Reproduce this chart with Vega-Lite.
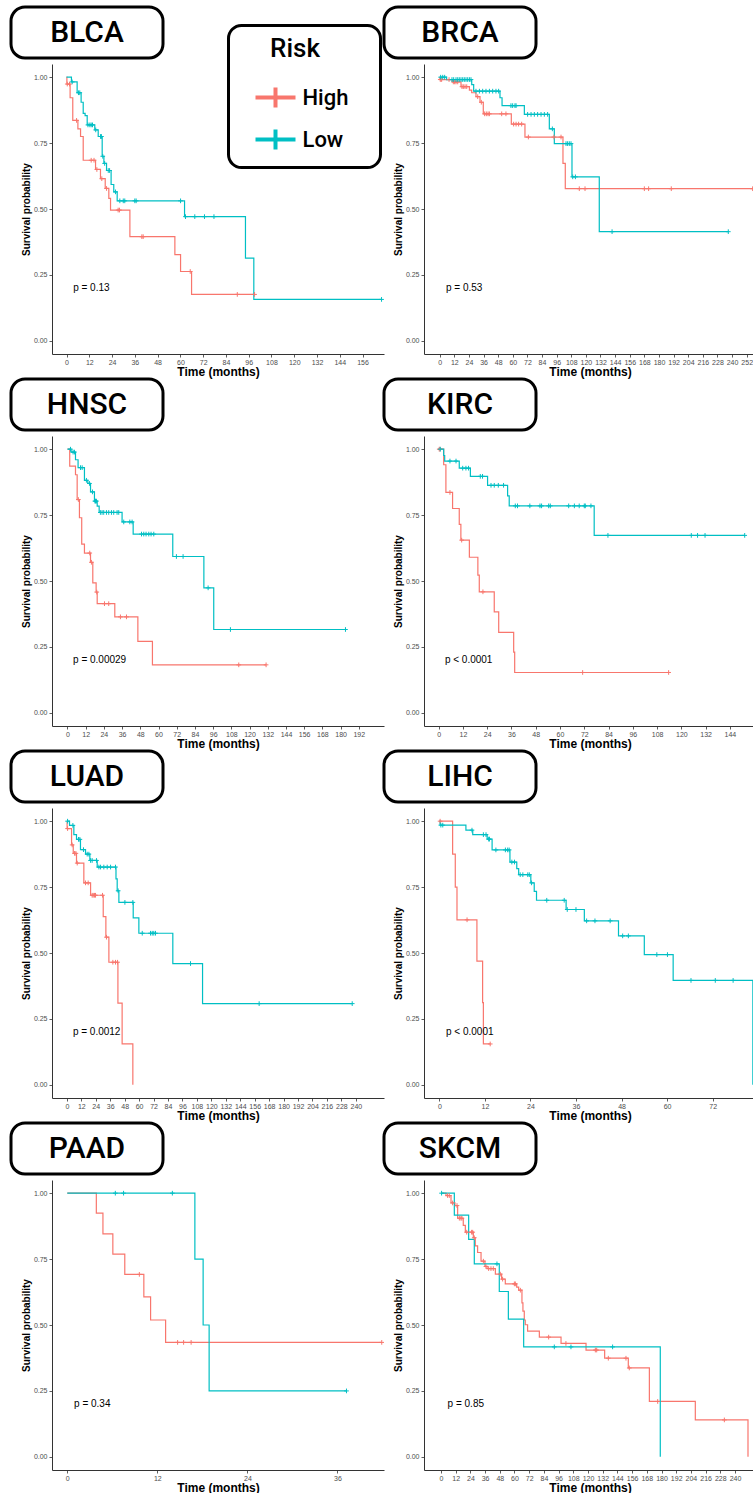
{
"$schema": "https://vega.github.io/schema/vega-lite/v6.json",
"background": "white",
"padding": {"left": 9, "top": 5, "right": 0, "bottom": 0},
"datasets": {
"pv": [
{"panel":"BLCA","t":3.5,"s":0.2,"p":"p = 0.13"},
{"panel":"BRCA","t":5.2,"s":0.2,"p":"p = 0.53"},
{"panel":"HNSC","t":3.7,"s":0.2,"p":"p = 0.00029"},
{"panel":"KIRC","t":3.1,"s":0.2,"p":"p < 0.0001"},
{"panel":"LUAD","t":5,"s":0.2,"p":"p = 0.0012"},
{"panel":"LIHC","t":1.75,"s":0.2,"p":"p < 0.0001"},
{"panel":"PAAD","t":0.9,"s":0.2,"p":"p = 0.34"},
{"panel":"SKCM","t":5.4,"s":0.2,"p":"p = 0.85"}
],
"blca": [
{"g":"High","t":0,"s":1,"c":0},{"g":"High","t":0.2,"s":0.974,"c":0},{"g":"High","t":0.4,"s":0.974,"c":1},{"g":"High","t":1.6,"s":0.974,"c":1},{"g":"High","t":1.9,"s":0.922,"c":0},{"g":"High","t":3.3,"s":0.836,"c":0},{"g":"High","t":5.3,"s":0.836,"c":1},{"g":"High","t":6.0,"s":0.804,"c":0},{"g":"High","t":7.4,"s":0.775,"c":0},{"g":"High","t":8.8,"s":0.685,"c":0},{"g":"High","t":13,"s":0.685,"c":1},{"g":"High","t":14.5,"s":0.685,"c":1},{"g":"High","t":15.3,"s":0.65,"c":0},{"g":"High","t":16,"s":0.65,"c":1},{"g":"High","t":17.9,"s":0.615,"c":0},{"g":"High","t":18.6,"s":0.615,"c":1},{"g":"High","t":20.4,"s":0.578,"c":0},{"g":"High","t":21.1,"s":0.578,"c":1},{"g":"High","t":22.3,"s":0.54,"c":0},{"g":"High","t":23.2,"s":0.496,"c":0},{"g":"High","t":27.2,"s":0.496,"c":1},{"g":"High","t":27.9,"s":0.496,"c":1},{"g":"High","t":33.4,"s":0.395,"c":0},{"g":"High","t":39.7,"s":0.395,"c":1},{"g":"High","t":40.4,"s":0.395,"c":1},{"g":"High","t":57.1,"s":0.327,"c":0},{"g":"High","t":60.1,"s":0.263,"c":0},{"g":"High","t":65.2,"s":0.263,"c":1},{"g":"High","t":65.9,"s":0.176,"c":0},{"g":"High","t":90,"s":0.176,"c":1},{"g":"High","t":99.1,"s":0.176,"c":1},
{"g":"Low","t":0,"s":1,"c":0},{"g":"Low","t":2.6,"s":0.982,"c":0},{"g":"Low","t":3.0,"s":0.982,"c":1},{"g":"Low","t":5.6,"s":0.941,"c":0},{"g":"Low","t":6.3,"s":0.941,"c":1},{"g":"Low","t":7.0,"s":0.941,"c":1},{"g":"Low","t":7.7,"s":0.905,"c":0},{"g":"Low","t":8.8,"s":0.863,"c":0},{"g":"Low","t":9.8,"s":0.854,"c":0},{"g":"Low","t":10.9,"s":0.819,"c":0},{"g":"Low","t":11.3,"s":0.819,"c":1},{"g":"Low","t":12.3,"s":0.819,"c":1},{"g":"Low","t":13,"s":0.819,"c":1},{"g":"Low","t":13.7,"s":0.819,"c":1},{"g":"Low","t":14.9,"s":0.8,"c":0},{"g":"Low","t":15.4,"s":0.8,"c":1},{"g":"Low","t":16.7,"s":0.775,"c":0},{"g":"Low","t":17.9,"s":0.775,"c":1},{"g":"Low","t":18.4,"s":0.775,"c":1},{"g":"Low","t":18.8,"s":0.7,"c":0},{"g":"Low","t":19.1,"s":0.7,"c":1},{"g":"Low","t":19.7,"s":0.673,"c":0},{"g":"Low","t":20.1,"s":0.673,"c":1},{"g":"Low","t":21.1,"s":0.646,"c":0},{"g":"Low","t":22,"s":0.646,"c":1},{"g":"Low","t":22.7,"s":0.646,"c":1},{"g":"Low","t":23.5,"s":0.593,"c":0},{"g":"Low","t":24.9,"s":0.565,"c":0},{"g":"Low","t":25.8,"s":0.565,"c":1},{"g":"Low","t":26.7,"s":0.531,"c":0},{"g":"Low","t":28.1,"s":0.531,"c":1},{"g":"Low","t":29.9,"s":0.531,"c":1},{"g":"Low","t":30.7,"s":0.531,"c":1},{"g":"Low","t":36,"s":0.531,"c":1},{"g":"Low","t":36.7,"s":0.531,"c":1},{"g":"Low","t":60.1,"s":0.531,"c":1},{"g":"Low","t":62.2,"s":0.471,"c":0},{"g":"Low","t":62.7,"s":0.471,"c":1},{"g":"Low","t":67.6,"s":0.471,"c":1},{"g":"Low","t":72.7,"s":0.471,"c":1},{"g":"Low","t":77.7,"s":0.471,"c":1},{"g":"Low","t":94.3,"s":0.314,"c":0},{"g":"Low","t":98.7,"s":0.157,"c":0},{"g":"Low","t":166,"s":0.157,"c":1}
],
"brca": [
{"g":"High","t":0,"s":1,"c":0},{"g":"High","t":0.2,"s":0.991,"c":0},{"g":"High","t":0.5,"s":0.991,"c":1},{"g":"High","t":1.6,"s":0.991,"c":1},{"g":"High","t":7.7,"s":0.991,"c":1},{"g":"High","t":10.7,"s":0.982,"c":0},{"g":"High","t":11.2,"s":0.982,"c":1},{"g":"High","t":12.3,"s":0.982,"c":1},{"g":"High","t":13.4,"s":0.982,"c":1},{"g":"High","t":14.8,"s":0.982,"c":1},{"g":"High","t":17.5,"s":0.964,"c":0},{"g":"High","t":18.3,"s":0.964,"c":1},{"g":"High","t":19.4,"s":0.964,"c":1},{"g":"High","t":20.8,"s":0.964,"c":1},{"g":"High","t":22.2,"s":0.964,"c":1},{"g":"High","t":24.4,"s":0.951,"c":0},{"g":"High","t":26.3,"s":0.941,"c":0},{"g":"High","t":29.8,"s":0.926,"c":0},{"g":"High","t":31.2,"s":0.926,"c":1},{"g":"High","t":33.1,"s":0.905,"c":0},{"g":"High","t":34.2,"s":0.905,"c":1},{"g":"High","t":35.8,"s":0.861,"c":0},{"g":"High","t":36.9,"s":0.861,"c":1},{"g":"High","t":38.3,"s":0.861,"c":1},{"g":"High","t":39.7,"s":0.861,"c":1},{"g":"High","t":40.8,"s":0.861,"c":1},{"g":"High","t":50.9,"s":0.861,"c":1},{"g":"High","t":54.4,"s":0.861,"c":1},{"g":"High","t":58.8,"s":0.822,"c":0},{"g":"High","t":60.7,"s":0.822,"c":1},{"g":"High","t":62.7,"s":0.822,"c":1},{"g":"High","t":64.8,"s":0.822,"c":1},{"g":"High","t":67.3,"s":0.822,"c":1},{"g":"High","t":70,"s":0.773,"c":0},{"g":"High","t":72.8,"s":0.773,"c":1},{"g":"High","t":93.8,"s":0.773,"c":1},{"g":"High","t":99.6,"s":0.773,"c":1},{"g":"High","t":101.2,"s":0.673,"c":0},{"g":"High","t":103.1,"s":0.577,"c":0},{"g":"High","t":114.6,"s":0.577,"c":1},{"g":"High","t":119.3,"s":0.577,"c":1},{"g":"High","t":168,"s":0.577,"c":1},{"g":"High","t":171.5,"s":0.577,"c":1},{"g":"High","t":190.1,"s":0.577,"c":1},{"g":"High","t":256.9,"s":0.577,"c":1},
{"g":"Low","t":0,"s":1,"c":0},{"g":"Low","t":0.8,"s":1,"c":1},{"g":"Low","t":2.5,"s":1,"c":1},{"g":"Low","t":4.1,"s":1,"c":1},{"g":"Low","t":5.7,"s":0.991,"c":0},{"g":"Low","t":10.1,"s":0.991,"c":1},{"g":"Low","t":11.5,"s":0.991,"c":1},{"g":"Low","t":13.4,"s":0.991,"c":1},{"g":"Low","t":14.8,"s":0.991,"c":1},{"g":"Low","t":16.1,"s":0.991,"c":1},{"g":"Low","t":17.5,"s":0.991,"c":1},{"g":"Low","t":18.9,"s":0.991,"c":1},{"g":"Low","t":20.2,"s":0.991,"c":1},{"g":"Low","t":21.6,"s":0.991,"c":1},{"g":"Low","t":23,"s":0.991,"c":1},{"g":"Low","t":24.4,"s":0.991,"c":1},{"g":"Low","t":25.7,"s":0.991,"c":1},{"g":"Low","t":26.3,"s":0.972,"c":0},{"g":"Low","t":27.9,"s":0.947,"c":0},{"g":"Low","t":29.8,"s":0.947,"c":1},{"g":"Low","t":32.6,"s":0.947,"c":1},{"g":"Low","t":35.3,"s":0.947,"c":1},{"g":"Low","t":38,"s":0.947,"c":1},{"g":"Low","t":40.8,"s":0.947,"c":1},{"g":"Low","t":43.5,"s":0.947,"c":1},{"g":"Low","t":46.2,"s":0.947,"c":1},{"g":"Low","t":48.4,"s":0.947,"c":1},{"g":"Low","t":49.5,"s":0.922,"c":0},{"g":"Low","t":51.2,"s":0.892,"c":0},{"g":"Low","t":58.5,"s":0.892,"c":1},{"g":"Low","t":59.9,"s":0.892,"c":1},{"g":"Low","t":61.8,"s":0.892,"c":1},{"g":"Low","t":62.7,"s":0.892,"c":1},{"g":"Low","t":69.5,"s":0.859,"c":0},{"g":"Low","t":72.2,"s":0.859,"c":1},{"g":"Low","t":75,"s":0.859,"c":1},{"g":"Low","t":77.7,"s":0.859,"c":1},{"g":"Low","t":80.4,"s":0.859,"c":1},{"g":"Low","t":83.2,"s":0.859,"c":1},{"g":"Low","t":85.9,"s":0.859,"c":1},{"g":"Low","t":88.6,"s":0.859,"c":1},{"g":"Low","t":90,"s":0.804,"c":0},{"g":"Low","t":92.5,"s":0.804,"c":1},{"g":"Low","t":94.1,"s":0.748,"c":0},{"g":"Low","t":103.7,"s":0.748,"c":1},{"g":"Low","t":105,"s":0.748,"c":1},{"g":"Low","t":106.4,"s":0.748,"c":1},{"g":"Low","t":107.8,"s":0.748,"c":1},{"g":"Low","t":108.6,"s":0.622,"c":0},{"g":"Low","t":109.2,"s":0.622,"c":1},{"g":"Low","t":111.4,"s":0.622,"c":1},{"g":"Low","t":131,"s":0.414,"c":0},{"g":"Low","t":141.5,"s":0.414,"c":1},{"g":"Low","t":236.9,"s":0.414,"c":1}
],
"hnsc": [
{"g":"High","t":0,"s":1,"c":0},{"g":"High","t":1.5,"s":0.936,"c":0},{"g":"High","t":5.3,"s":0.903,"c":0},{"g":"High","t":6.4,"s":0.809,"c":0},{"g":"High","t":7.2,"s":0.809,"c":1},{"g":"High","t":7.9,"s":0.74,"c":0},{"g":"High","t":9.4,"s":0.64,"c":0},{"g":"High","t":11.2,"s":0.606,"c":0},{"g":"High","t":14.7,"s":0.606,"c":1},{"g":"High","t":15.2,"s":0.571,"c":0},{"g":"High","t":15.8,"s":0.571,"c":1},{"g":"High","t":16.7,"s":0.493,"c":0},{"g":"High","t":18.9,"s":0.458,"c":0},{"g":"High","t":19.3,"s":0.458,"c":1},{"g":"High","t":19.6,"s":0.414,"c":0},{"g":"High","t":24.4,"s":0.414,"c":1},{"g":"High","t":27.2,"s":0.414,"c":1},{"g":"High","t":31.2,"s":0.364,"c":0},{"g":"High","t":34.9,"s":0.364,"c":1},{"g":"High","t":38.9,"s":0.364,"c":1},{"g":"High","t":46.4,"s":0.271,"c":0},{"g":"High","t":56,"s":0.182,"c":0},{"g":"High","t":112.9,"s":0.182,"c":1},{"g":"High","t":130.9,"s":0.182,"c":1},
{"g":"Low","t":0,"s":1,"c":0},{"g":"Low","t":2,"s":1,"c":1},{"g":"Low","t":2.4,"s":0.989,"c":0},{"g":"Low","t":3.7,"s":0.989,"c":1},{"g":"Low","t":4.6,"s":0.989,"c":1},{"g":"Low","t":5.3,"s":0.96,"c":0},{"g":"Low","t":7,"s":0.93,"c":0},{"g":"Low","t":8.6,"s":0.93,"c":1},{"g":"Low","t":9.7,"s":0.93,"c":1},{"g":"Low","t":11.2,"s":0.882,"c":0},{"g":"Low","t":12.5,"s":0.882,"c":1},{"g":"Low","t":13.4,"s":0.87,"c":0},{"g":"Low","t":14.5,"s":0.87,"c":1},{"g":"Low","t":15.2,"s":0.838,"c":0},{"g":"Low","t":16.5,"s":0.838,"c":1},{"g":"Low","t":17.8,"s":0.803,"c":0},{"g":"Low","t":18.1,"s":0.803,"c":1},{"g":"Low","t":18.5,"s":0.803,"c":1},{"g":"Low","t":19.1,"s":0.803,"c":1},{"g":"Low","t":19.6,"s":0.784,"c":0},{"g":"Low","t":20.9,"s":0.76,"c":0},{"g":"Low","t":21.7,"s":0.76,"c":1},{"g":"Low","t":22.8,"s":0.76,"c":1},{"g":"Low","t":23.9,"s":0.76,"c":1},{"g":"Low","t":25.7,"s":0.76,"c":1},{"g":"Low","t":27.2,"s":0.76,"c":1},{"g":"Low","t":29,"s":0.76,"c":1},{"g":"Low","t":30.5,"s":0.76,"c":1},{"g":"Low","t":32.7,"s":0.76,"c":1},{"g":"Low","t":33.8,"s":0.76,"c":1},{"g":"Low","t":36,"s":0.724,"c":0},{"g":"Low","t":37.1,"s":0.724,"c":1},{"g":"Low","t":41.1,"s":0.724,"c":1},{"g":"Low","t":42.6,"s":0.724,"c":1},{"g":"Low","t":43.3,"s":0.678,"c":0},{"g":"Low","t":48.8,"s":0.678,"c":1},{"g":"Low","t":50.3,"s":0.678,"c":1},{"g":"Low","t":51.8,"s":0.678,"c":1},{"g":"Low","t":53.6,"s":0.678,"c":1},{"g":"Low","t":55.1,"s":0.678,"c":1},{"g":"Low","t":56.9,"s":0.678,"c":1},{"g":"Low","t":69.4,"s":0.593,"c":0},{"g":"Low","t":71.8,"s":0.593,"c":1},{"g":"Low","t":76.2,"s":0.593,"c":1},{"g":"Low","t":89.9,"s":0.474,"c":0},{"g":"Low","t":92.7,"s":0.474,"c":1},{"g":"Low","t":96.4,"s":0.316,"c":0},{"g":"Low","t":107.4,"s":0.316,"c":1},{"g":"Low","t":183.2,"s":0.316,"c":1}
],
"kirc": [
{"g":"High","t":0,"s":1,"c":0},{"g":"High","t":0.3,"s":1,"c":1},{"g":"High","t":0.7,"s":1,"c":1},{"g":"High","t":2.5,"s":0.941,"c":0},{"g":"High","t":3.6,"s":0.836,"c":0},{"g":"High","t":5.6,"s":0.836,"c":1},{"g":"High","t":6.9,"s":0.775,"c":0},{"g":"High","t":10.2,"s":0.715,"c":0},{"g":"High","t":11,"s":0.655,"c":0},{"g":"High","t":11.4,"s":0.655,"c":1},{"g":"High","t":15.2,"s":0.59,"c":0},{"g":"High","t":19.4,"s":0.522,"c":0},{"g":"High","t":20.1,"s":0.459,"c":0},{"g":"High","t":21.9,"s":0.459,"c":1},{"g":"High","t":27.5,"s":0.383,"c":0},{"g":"High","t":29.7,"s":0.305,"c":0},{"g":"High","t":37.1,"s":0.23,"c":0},{"g":"High","t":37.6,"s":0.153,"c":0},{"g":"High","t":71.2,"s":0.153,"c":1},{"g":"High","t":113.7,"s":0.153,"c":1},
{"g":"Low","t":0,"s":1,"c":0},{"g":"Low","t":0.8,"s":1,"c":1},{"g":"Low","t":2.5,"s":0.976,"c":0},{"g":"Low","t":3,"s":0.955,"c":0},{"g":"Low","t":5.6,"s":0.955,"c":1},{"g":"Low","t":8.6,"s":0.955,"c":1},{"g":"Low","t":10.2,"s":0.928,"c":0},{"g":"Low","t":11.9,"s":0.928,"c":1},{"g":"Low","t":13.5,"s":0.928,"c":1},{"g":"Low","t":14.8,"s":0.928,"c":1},{"g":"Low","t":15.7,"s":0.897,"c":0},{"g":"Low","t":20.6,"s":0.897,"c":1},{"g":"Low","t":21.7,"s":0.897,"c":1},{"g":"Low","t":24.2,"s":0.863,"c":0},{"g":"Low","t":25.9,"s":0.863,"c":1},{"g":"Low","t":27.5,"s":0.863,"c":1},{"g":"Low","t":29.5,"s":0.863,"c":1},{"g":"Low","t":32.1,"s":0.863,"c":1},{"g":"Low","t":34.1,"s":0.823,"c":0},{"g":"Low","t":34.9,"s":0.785,"c":0},{"g":"Low","t":37.9,"s":0.785,"c":1},{"g":"Low","t":39,"s":0.785,"c":1},{"g":"Low","t":45.1,"s":0.785,"c":1},{"g":"Low","t":50.1,"s":0.785,"c":1},{"g":"Low","t":50.9,"s":0.785,"c":1},{"g":"Low","t":54.4,"s":0.785,"c":1},{"g":"Low","t":55.2,"s":0.785,"c":1},{"g":"Low","t":64.3,"s":0.785,"c":1},{"g":"Low","t":67.1,"s":0.785,"c":1},{"g":"Low","t":69.5,"s":0.785,"c":1},{"g":"Low","t":72,"s":0.785,"c":1},{"g":"Low","t":72.5,"s":0.785,"c":1},{"g":"Low","t":75.3,"s":0.785,"c":1},{"g":"Low","t":76.9,"s":0.673,"c":0},{"g":"Low","t":83.7,"s":0.673,"c":1},{"g":"Low","t":124.9,"s":0.673,"c":1},{"g":"Low","t":128,"s":0.673,"c":1},{"g":"Low","t":131.7,"s":0.673,"c":1},{"g":"Low","t":151.3,"s":0.673,"c":1}
],
"luad": [
{"g":"High","t":0,"s":1,"c":0},{"g":"High","t":0.2,"s":0.972,"c":0},{"g":"High","t":0.6,"s":0.972,"c":1},{"g":"High","t":3.9,"s":0.91,"c":0},{"g":"High","t":4.4,"s":0.91,"c":1},{"g":"High","t":5.3,"s":0.878,"c":0},{"g":"High","t":6.4,"s":0.878,"c":1},{"g":"High","t":7.5,"s":0.878,"c":1},{"g":"High","t":8,"s":0.841,"c":0},{"g":"High","t":8.6,"s":0.841,"c":1},{"g":"High","t":14.1,"s":0.766,"c":0},{"g":"High","t":15.5,"s":0.766,"c":1},{"g":"High","t":17.7,"s":0.766,"c":1},{"g":"High","t":19.7,"s":0.719,"c":0},{"g":"High","t":21,"s":0.719,"c":1},{"g":"High","t":21.9,"s":0.719,"c":1},{"g":"High","t":23,"s":0.719,"c":1},{"g":"High","t":23.8,"s":0.719,"c":1},{"g":"High","t":29.6,"s":0.719,"c":1},{"g":"High","t":30.2,"s":0.638,"c":0},{"g":"High","t":32.4,"s":0.56,"c":0},{"g":"High","t":32.9,"s":0.56,"c":1},{"g":"High","t":34.9,"s":0.465,"c":0},{"g":"High","t":38.2,"s":0.465,"c":1},{"g":"High","t":40.4,"s":0.465,"c":1},{"g":"High","t":42.1,"s":0.465,"c":1},{"g":"High","t":42.4,"s":0.31,"c":0},{"g":"High","t":45.9,"s":0.155,"c":0},{"g":"High","t":54.8,"s":0,"c":0},
{"g":"Low","t":0,"s":1,"c":0},{"g":"Low","t":0.6,"s":1,"c":1},{"g":"Low","t":2.2,"s":0.984,"c":0},{"g":"Low","t":5,"s":0.984,"c":1},{"g":"Low","t":5.8,"s":0.949,"c":0},{"g":"Low","t":8,"s":0.931,"c":0},{"g":"Low","t":9.7,"s":0.931,"c":1},{"g":"Low","t":10.8,"s":0.931,"c":1},{"g":"Low","t":11.3,"s":0.892,"c":0},{"g":"Low","t":13.8,"s":0.892,"c":1},{"g":"Low","t":15.5,"s":0.875,"c":0},{"g":"Low","t":16.9,"s":0.875,"c":1},{"g":"Low","t":18.3,"s":0.875,"c":1},{"g":"Low","t":19.1,"s":0.851,"c":0},{"g":"Low","t":19.7,"s":0.851,"c":1},{"g":"Low","t":21,"s":0.851,"c":1},{"g":"Low","t":24.6,"s":0.851,"c":1},{"g":"Low","t":25.2,"s":0.826,"c":0},{"g":"Low","t":26.6,"s":0.826,"c":1},{"g":"Low","t":28,"s":0.826,"c":1},{"g":"Low","t":30.7,"s":0.826,"c":1},{"g":"Low","t":33.5,"s":0.826,"c":1},{"g":"Low","t":36.3,"s":0.826,"c":1},{"g":"Low","t":40.4,"s":0.826,"c":1},{"g":"Low","t":40.8,"s":0.781,"c":0},{"g":"Low","t":41.8,"s":0.736,"c":0},{"g":"Low","t":42.6,"s":0.736,"c":1},{"g":"Low","t":43.2,"s":0.692,"c":0},{"g":"Low","t":48.2,"s":0.692,"c":1},{"g":"Low","t":54.8,"s":0.692,"c":1},{"g":"Low","t":55.1,"s":0.633,"c":0},{"g":"Low","t":59.8,"s":0.575,"c":0},{"g":"Low","t":62.6,"s":0.575,"c":1},{"g":"Low","t":69.5,"s":0.575,"c":1},{"g":"Low","t":70.9,"s":0.575,"c":1},{"g":"Low","t":72.2,"s":0.575,"c":1},{"g":"Low","t":73.6,"s":0.575,"c":1},{"g":"Low","t":88,"s":0.46,"c":0},{"g":"Low","t":102.7,"s":0.46,"c":1},{"g":"Low","t":112.7,"s":0.308,"c":0},{"g":"Low","t":159.7,"s":0.308,"c":1},{"g":"Low","t":237,"s":0.308,"c":1}
],
"lihc": [
{"g":"High","t":0,"s":1,"c":0},{"g":"High","t":0.2,"s":1,"c":1},{"g":"High","t":3.5,"s":0.875,"c":0},{"g":"High","t":4.2,"s":0.75,"c":0},{"g":"High","t":4.65,"s":0.626,"c":0},{"g":"High","t":7.3,"s":0.626,"c":1},{"g":"High","t":9.9,"s":0.469,"c":0},{"g":"High","t":11.4,"s":0.312,"c":0},{"g":"High","t":11.6,"s":0.155,"c":0},{"g":"High","t":13.4,"s":0.155,"c":1},
{"g":"Low","t":0,"s":1,"c":0},{"g":"Low","t":0.2,"s":0.985,"c":0},{"g":"Low","t":0.4,"s":0.985,"c":1},{"g":"Low","t":0.9,"s":0.985,"c":1},{"g":"Low","t":7,"s":0.966,"c":0},{"g":"Low","t":8.6,"s":0.966,"c":1},{"g":"Low","t":8.8,"s":0.949,"c":0},{"g":"Low","t":11.6,"s":0.949,"c":1},{"g":"Low","t":12.3,"s":0.949,"c":1},{"g":"Low","t":12.6,"s":0.932,"c":0},{"g":"Low","t":13,"s":0.932,"c":1},{"g":"Low","t":13.2,"s":0.932,"c":1},{"g":"Low","t":13.9,"s":0.891,"c":0},{"g":"Low","t":14.9,"s":0.891,"c":1},{"g":"Low","t":17.4,"s":0.891,"c":1},{"g":"Low","t":18,"s":0.891,"c":1},{"g":"Low","t":18.4,"s":0.891,"c":1},{"g":"Low","t":18.6,"s":0.845,"c":0},{"g":"Low","t":19.1,"s":0.845,"c":1},{"g":"Low","t":19.8,"s":0.845,"c":1},{"g":"Low","t":20.4,"s":0.82,"c":0},{"g":"Low","t":20.9,"s":0.797,"c":0},{"g":"Low","t":21.3,"s":0.797,"c":1},{"g":"Low","t":22,"s":0.797,"c":1},{"g":"Low","t":23.3,"s":0.797,"c":1},{"g":"Low","t":23.7,"s":0.797,"c":1},{"g":"Low","t":24.1,"s":0.766,"c":0},{"g":"Low","t":24.3,"s":0.766,"c":1},{"g":"Low","t":25,"s":0.734,"c":0},{"g":"Low","t":25.6,"s":0.7,"c":0},{"g":"Low","t":28.3,"s":0.7,"c":1},{"g":"Low","t":32.9,"s":0.7,"c":1},{"g":"Low","t":33.4,"s":0.665,"c":0},{"g":"Low","t":33.7,"s":0.665,"c":1},{"g":"Low","t":36,"s":0.665,"c":1},{"g":"Low","t":38.2,"s":0.622,"c":0},{"g":"Low","t":38.8,"s":0.622,"c":1},{"g":"Low","t":41,"s":0.622,"c":1},{"g":"Low","t":45,"s":0.622,"c":1},{"g":"Low","t":47.2,"s":0.565,"c":0},{"g":"Low","t":48.3,"s":0.565,"c":1},{"g":"Low","t":49.8,"s":0.565,"c":1},{"g":"Low","t":54,"s":0.494,"c":0},{"g":"Low","t":57.3,"s":0.494,"c":1},{"g":"Low","t":60.1,"s":0.494,"c":1},{"g":"Low","t":61.6,"s":0.396,"c":0},{"g":"Low","t":66.3,"s":0.396,"c":1},{"g":"Low","t":72.7,"s":0.396,"c":1},{"g":"Low","t":77.4,"s":0.396,"c":1},{"g":"Low","t":82.6,"s":0,"c":0}
],
"paad": [
{"g":"High","t":0,"s":1,"c":0},{"g":"High","t":3.87,"s":0.924,"c":0},{"g":"High","t":4.75,"s":0.846,"c":0},{"g":"High","t":6.07,"s":0.769,"c":0},{"g":"High","t":7.66,"s":0.692,"c":0},{"g":"High","t":9.6,"s":0.692,"c":1},{"g":"High","t":10.2,"s":0.607,"c":0},{"g":"High","t":11.1,"s":0.519,"c":0},{"g":"High","t":13.1,"s":0.434,"c":0},{"g":"High","t":14.7,"s":0.434,"c":1},{"g":"High","t":15.5,"s":0.434,"c":1},{"g":"High","t":16.5,"s":0.434,"c":1},{"g":"High","t":41.9,"s":0.434,"c":1},
{"g":"Low","t":0,"s":1,"c":0},{"g":"Low","t":6.4,"s":1,"c":1},{"g":"Low","t":7.5,"s":1,"c":1},{"g":"Low","t":14,"s":1,"c":1},{"g":"Low","t":17,"s":0.75,"c":0},{"g":"Low","t":18.1,"s":0.5,"c":0},{"g":"Low","t":18.9,"s":0.25,"c":0},{"g":"Low","t":37.2,"s":0.25,"c":1}
],
"skcm": [
{"g":"High","t":0,"s":1,"c":0},{"g":"High","t":4.1,"s":0.991,"c":0},{"g":"High","t":5.4,"s":0.991,"c":1},{"g":"High","t":6.8,"s":0.991,"c":1},{"g":"High","t":8.2,"s":0.963,"c":0},{"g":"High","t":9.5,"s":0.963,"c":1},{"g":"High","t":11.4,"s":0.953,"c":0},{"g":"High","t":13.1,"s":0.953,"c":1},{"g":"High","t":13.6,"s":0.905,"c":0},{"g":"High","t":15,"s":0.905,"c":1},{"g":"High","t":16.3,"s":0.905,"c":1},{"g":"High","t":17.1,"s":0.905,"c":1},{"g":"High","t":18.2,"s":0.878,"c":0},{"g":"High","t":19.9,"s":0.852,"c":0},{"g":"High","t":21,"s":0.852,"c":1},{"g":"High","t":25,"s":0.852,"c":1},{"g":"High","t":25.9,"s":0.852,"c":1},{"g":"High","t":26.4,"s":0.831,"c":0},{"g":"High","t":27.2,"s":0.831,"c":1},{"g":"High","t":28,"s":0.8,"c":0},{"g":"High","t":29.9,"s":0.775,"c":0},{"g":"High","t":32.7,"s":0.742,"c":0},{"g":"High","t":34.6,"s":0.742,"c":1},{"g":"High","t":35.9,"s":0.722,"c":0},{"g":"High","t":36.7,"s":0.722,"c":1},{"g":"High","t":37.6,"s":0.714,"c":0},{"g":"High","t":38.9,"s":0.714,"c":1},{"g":"High","t":40.8,"s":0.714,"c":1},{"g":"High","t":42.7,"s":0.714,"c":1},{"g":"High","t":44.4,"s":0.693,"c":0},{"g":"High","t":48.4,"s":0.693,"c":1},{"g":"High","t":49.5,"s":0.674,"c":0},{"g":"High","t":50.3,"s":0.674,"c":1},{"g":"High","t":52.5,"s":0.656,"c":0},{"g":"High","t":59.9,"s":0.656,"c":1},{"g":"High","t":60.7,"s":0.656,"c":1},{"g":"High","t":61.8,"s":0.644,"c":0},{"g":"High","t":63.4,"s":0.632,"c":0},{"g":"High","t":64.8,"s":0.632,"c":1},{"g":"High","t":66.1,"s":0.584,"c":0},{"g":"High","t":66.9,"s":0.553,"c":0},{"g":"High","t":68,"s":0.519,"c":0},{"g":"High","t":68.8,"s":0.501,"c":0},{"g":"High","t":70.7,"s":0.477,"c":0},{"g":"High","t":80.3,"s":0.454,"c":0},{"g":"High","t":87.9,"s":0.454,"c":1},{"g":"High","t":98,"s":0.43,"c":0},{"g":"High","t":102,"s":0.43,"c":1},{"g":"High","t":118.4,"s":0.405,"c":0},{"g":"High","t":126,"s":0.405,"c":1},{"g":"High","t":127.1,"s":0.405,"c":1},{"g":"High","t":133.6,"s":0.374,"c":0},{"g":"High","t":136.6,"s":0.374,"c":1},{"g":"High","t":151,"s":0.374,"c":1},{"g":"High","t":152.9,"s":0.337,"c":0},{"g":"High","t":153.7,"s":0.337,"c":1},{"g":"High","t":170.1,"s":0.21,"c":0},{"g":"High","t":176.9,"s":0.21,"c":1},{"g":"High","t":207.6,"s":0.14,"c":0},{"g":"High","t":231.3,"s":0.14,"c":1},{"g":"High","t":250.6,"s":0,"c":0},
{"g":"Low","t":0,"s":1,"c":0},{"g":"Low","t":0.5,"s":1,"c":1},{"g":"Low","t":10.9,"s":0.917,"c":0},{"g":"Low","t":22.6,"s":0.825,"c":0},{"g":"Low","t":27.2,"s":0.732,"c":0},{"g":"Low","t":45.7,"s":0.732,"c":1},{"g":"Low","t":47.6,"s":0.627,"c":0},{"g":"Low","t":55,"s":0.522,"c":0},{"g":"Low","t":67.5,"s":0.417,"c":0},{"g":"Low","t":92.5,"s":0.417,"c":1},{"g":"Low","t":106.1,"s":0.417,"c":1},{"g":"Low","t":140.1,"s":0.417,"c":1},{"g":"Low","t":179,"s":0,"c":0}
]
},
"columns": 2,
"spacing": {"row": 0, "column": -2},
"concat": [
{"vconcat": [
 {"width": 152, "height": 51, "view": {"stroke": "black", "strokeWidth": 3, "cornerRadius": 14, "fill": "white"}, "data": {"values": [{"name": "BLCA"}]}, "mark": {"type": "text", "font": "Roboto", "fontSize": 30, "fontWeight": 500, "color": "black"}, "encoding": {"text": {"field": "name"}}},
 {"width": 373, "height": 290, "data": {"name": "blca"}, "layer": [
  {"mark": {"type": "line", "interpolate": "step-after", "strokeWidth": 1.2, "clip": true},
   "encoding": {"x": {"field": "t", "type": "quantitative", "scale": {"domain": [-29.25, 167.3], "nice": false, "zero": false}, "axis": {"values": [0,12,24,36,48,60,72,84,96,108,120,132,144,156], "tickCount": 60, "title": "Time (months)", "domainDash": [0, 41, 2000], "titleX": 207, "labelOverlap": false}},
    "y": {"field": "s", "type": "quantitative", "scale": {"domain": [-0.05, 1.05], "nice": false, "zero": false}, "axis": {"values": [0,0.25,0.5,0.75,1], "format": ".2f", "title": "Survival probability", "offset": -41, "labelOverlap": false}},
    "color": {"field": "g", "type": "nominal", "scale": {"domain": ["High","Low"], "range": ["#F8766D","#00BFC4"]}, "legend": {"title": "Risk\u2800", "orient": "none", "legendX": 217.5, "legendY": 18.5, "direction": "vertical", "symbolType": "M-1,0H1M0,-0.5V0.5", "symbolSize": 1600, "symbolStrokeWidth": 4, "symbolOffset": 15, "labelExpr": "datum.label + '\u00a0\u2800'"}}}},
  {"transform": [{"filter": "datum.c == 1"}], "mark": {"type": "point", "shape": "M-1,0H1M0,-1V1", "size": 22, "strokeWidth": 1, "filled": false, "opacity": 1, "clip": true},
   "encoding": {"x": {"field": "t", "type": "quantitative"}, "y": {"field": "s", "type": "quantitative"},
    "color": {"field": "g", "type": "nominal", "scale": {"domain": ["High","Low"], "range": ["#F8766D","#00BFC4"]}, "legend": {"title": "Risk\u2800", "orient": "none", "legendX": 217.5, "legendY": 18.5, "direction": "vertical", "symbolType": "M-1,0H1M0,-0.5V0.5", "symbolSize": 1600, "symbolStrokeWidth": 4, "symbolOffset": 15, "labelExpr": "datum.label + '\u00a0\u2800'"}}}},
  {"data": {"name": "pv"}, "transform": [{"filter": "datum.panel == 'BLCA'"}], "mark": {"type": "text", "align": "left", "baseline": "middle", "fontSize": 10, "font": "Liberation Sans", "color": "black"},
   "encoding": {"x": {"field": "t", "type": "quantitative"}, "y": {"field": "s", "type": "quantitative"}, "text": {"field": "p"}}}
 ]}
], "spacing": 4},
{"vconcat": [
 {"width": 152, "height": 51, "view": {"stroke": "black", "strokeWidth": 3, "cornerRadius": 14, "fill": "white"}, "data": {"values": [{"name": "BRCA"}]}, "mark": {"type": "text", "font": "Roboto", "fontSize": 30, "fontWeight": 500, "color": "black"}, "encoding": {"text": {"field": "name"}}},
 {"width": 370, "height": 290, "data": {"name": "brca"}, "layer": [
  {"mark": {"type": "line", "interpolate": "step-after", "strokeWidth": 1.2, "clip": true},
   "encoding": {"x": {"field": "t", "type": "quantitative", "scale": {"domain": [-45.7, 258], "nice": false, "zero": false}, "axis": {"values": [0,12,24,36,48,60,72,84,96,108,120,132,144,156,168,180,192,204,216,228,240,252], "tickCount": 60, "title": "Time (months)", "domainDash": [0, 40, 2000], "titleX": 206, "labelOverlap": false}},
    "y": {"field": "s", "type": "quantitative", "scale": {"domain": [-0.05, 1.05], "nice": false, "zero": false}, "axis": {"values": [0,0.25,0.5,0.75,1], "format": ".2f", "title": "Survival probability", "offset": -40, "labelOverlap": false}},
    "color": {"field": "g", "type": "nominal", "scale": {"domain": ["High","Low"], "range": ["#F8766D","#00BFC4"]}, "legend": {"title": "Risk\u2800", "orient": "none", "legendX": 217.5, "legendY": 18.5, "direction": "vertical", "symbolType": "M-1,0H1M0,-0.5V0.5", "symbolSize": 1600, "symbolStrokeWidth": 4, "symbolOffset": 15, "labelExpr": "datum.label + '\u00a0\u2800'"}}}},
  {"transform": [{"filter": "datum.c == 1"}], "mark": {"type": "point", "shape": "M-1,0H1M0,-1V1", "size": 22, "strokeWidth": 1, "filled": false, "opacity": 1, "clip": true},
   "encoding": {"x": {"field": "t", "type": "quantitative"}, "y": {"field": "s", "type": "quantitative"},
    "color": {"field": "g", "type": "nominal", "scale": {"domain": ["High","Low"], "range": ["#F8766D","#00BFC4"]}, "legend": {"title": "Risk\u2800", "orient": "none", "legendX": 217.5, "legendY": 18.5, "direction": "vertical", "symbolType": "M-1,0H1M0,-0.5V0.5", "symbolSize": 1600, "symbolStrokeWidth": 4, "symbolOffset": 15, "labelExpr": "datum.label + '\u00a0\u2800'"}}}},
  {"data": {"name": "pv"}, "transform": [{"filter": "datum.panel == 'BRCA'"}], "mark": {"type": "text", "align": "left", "baseline": "middle", "fontSize": 10, "font": "Liberation Sans", "color": "black"},
   "encoding": {"x": {"field": "t", "type": "quantitative"}, "y": {"field": "s", "type": "quantitative"}, "text": {"field": "p"}}}
 ]}
], "spacing": 4},
{"vconcat": [
 {"width": 152, "height": 51, "view": {"stroke": "black", "strokeWidth": 3, "cornerRadius": 14, "fill": "white"}, "data": {"values": [{"name": "HNSC"}]}, "mark": {"type": "text", "font": "Roboto", "fontSize": 30, "fontWeight": 500, "color": "black"}, "encoding": {"text": {"field": "name"}}},
 {"width": 373, "height": 290, "data": {"name": "hnsc"}, "layer": [
  {"mark": {"type": "line", "interpolate": "step-after", "strokeWidth": 1.2, "clip": true},
   "encoding": {"x": {"field": "t", "type": "quantitative", "scale": {"domain": [-37.2, 208.6], "nice": false, "zero": false}, "axis": {"values": [0,12,24,36,48,60,72,84,96,108,120,132,144,156,168,180,192], "tickCount": 60, "title": "Time (months)", "domainDash": [0, 41, 2000], "titleX": 207, "labelOverlap": false}},
    "y": {"field": "s", "type": "quantitative", "scale": {"domain": [-0.05, 1.05], "nice": false, "zero": false}, "axis": {"values": [0,0.25,0.5,0.75,1], "format": ".2f", "title": "Survival probability", "offset": -41, "labelOverlap": false}},
    "color": {"field": "g", "type": "nominal", "scale": {"domain": ["High","Low"], "range": ["#F8766D","#00BFC4"]}, "legend": {"title": "Risk\u2800", "orient": "none", "legendX": 217.5, "legendY": 18.5, "direction": "vertical", "symbolType": "M-1,0H1M0,-0.5V0.5", "symbolSize": 1600, "symbolStrokeWidth": 4, "symbolOffset": 15, "labelExpr": "datum.label + '\u00a0\u2800'"}}}},
  {"transform": [{"filter": "datum.c == 1"}], "mark": {"type": "point", "shape": "M-1,0H1M0,-1V1", "size": 22, "strokeWidth": 1, "filled": false, "opacity": 1, "clip": true},
   "encoding": {"x": {"field": "t", "type": "quantitative"}, "y": {"field": "s", "type": "quantitative"},
    "color": {"field": "g", "type": "nominal", "scale": {"domain": ["High","Low"], "range": ["#F8766D","#00BFC4"]}, "legend": {"title": "Risk\u2800", "orient": "none", "legendX": 217.5, "legendY": 18.5, "direction": "vertical", "symbolType": "M-1,0H1M0,-0.5V0.5", "symbolSize": 1600, "symbolStrokeWidth": 4, "symbolOffset": 15, "labelExpr": "datum.label + '\u00a0\u2800'"}}}},
  {"data": {"name": "pv"}, "transform": [{"filter": "datum.panel == 'HNSC'"}], "mark": {"type": "text", "align": "left", "baseline": "middle", "fontSize": 10, "font": "Liberation Sans", "color": "black"},
   "encoding": {"x": {"field": "t", "type": "quantitative"}, "y": {"field": "s", "type": "quantitative"}, "text": {"field": "p"}}}
 ]}
], "spacing": 4},
{"vconcat": [
 {"width": 152, "height": 51, "view": {"stroke": "black", "strokeWidth": 3, "cornerRadius": 14, "fill": "white"}, "data": {"values": [{"name": "KIRC"}]}, "mark": {"type": "text", "font": "Roboto", "fontSize": 30, "fontWeight": 500, "color": "black"}, "encoding": {"text": {"field": "name"}}},
 {"width": 370, "height": 290, "data": {"name": "kirc"}, "layer": [
  {"mark": {"type": "line", "interpolate": "step-after", "strokeWidth": 1.2, "clip": true},
   "encoding": {"x": {"field": "t", "type": "quantitative", "scale": {"domain": [-27.0, 155.9], "nice": false, "zero": false}, "axis": {"values": [0,12,24,36,48,60,72,84,96,108,120,132,144], "tickCount": 60, "title": "Time (months)", "domainDash": [0, 40, 2000], "titleX": 206, "labelOverlap": false}},
    "y": {"field": "s", "type": "quantitative", "scale": {"domain": [-0.05, 1.05], "nice": false, "zero": false}, "axis": {"values": [0,0.25,0.5,0.75,1], "format": ".2f", "title": "Survival probability", "offset": -40, "labelOverlap": false}},
    "color": {"field": "g", "type": "nominal", "scale": {"domain": ["High","Low"], "range": ["#F8766D","#00BFC4"]}, "legend": {"title": "Risk\u2800", "orient": "none", "legendX": 217.5, "legendY": 18.5, "direction": "vertical", "symbolType": "M-1,0H1M0,-0.5V0.5", "symbolSize": 1600, "symbolStrokeWidth": 4, "symbolOffset": 15, "labelExpr": "datum.label + '\u00a0\u2800'"}}}},
  {"transform": [{"filter": "datum.c == 1"}], "mark": {"type": "point", "shape": "M-1,0H1M0,-1V1", "size": 22, "strokeWidth": 1, "filled": false, "opacity": 1, "clip": true},
   "encoding": {"x": {"field": "t", "type": "quantitative"}, "y": {"field": "s", "type": "quantitative"},
    "color": {"field": "g", "type": "nominal", "scale": {"domain": ["High","Low"], "range": ["#F8766D","#00BFC4"]}, "legend": {"title": "Risk\u2800", "orient": "none", "legendX": 217.5, "legendY": 18.5, "direction": "vertical", "symbolType": "M-1,0H1M0,-0.5V0.5", "symbolSize": 1600, "symbolStrokeWidth": 4, "symbolOffset": 15, "labelExpr": "datum.label + '\u00a0\u2800'"}}}},
  {"data": {"name": "pv"}, "transform": [{"filter": "datum.panel == 'KIRC'"}], "mark": {"type": "text", "align": "left", "baseline": "middle", "fontSize": 10, "font": "Liberation Sans", "color": "black"},
   "encoding": {"x": {"field": "t", "type": "quantitative"}, "y": {"field": "s", "type": "quantitative"}, "text": {"field": "p"}}}
 ]}
], "spacing": 4},
{"vconcat": [
 {"width": 152, "height": 51, "view": {"stroke": "black", "strokeWidth": 3, "cornerRadius": 14, "fill": "white"}, "data": {"values": [{"name": "LUAD"}]}, "mark": {"type": "text", "font": "Roboto", "fontSize": 30, "fontWeight": 500, "color": "black"}, "encoding": {"text": {"field": "name"}}},
 {"width": 373, "height": 290, "data": {"name": "luad"}, "layer": [
  {"mark": {"type": "line", "interpolate": "step-after", "strokeWidth": 1.2, "clip": true},
   "encoding": {"x": {"field": "t", "type": "quantitative", "scale": {"domain": [-46.4, 263.4], "nice": false, "zero": false}, "axis": {"values": [0,12,24,36,48,60,72,84,96,108,120,132,144,156,168,180,192,204,216,228,240], "tickCount": 60, "title": "Time (months)", "domainDash": [0, 41, 2000], "titleX": 207, "labelOverlap": false}},
    "y": {"field": "s", "type": "quantitative", "scale": {"domain": [-0.05, 1.05], "nice": false, "zero": false}, "axis": {"values": [0,0.25,0.5,0.75,1], "format": ".2f", "title": "Survival probability", "offset": -41, "labelOverlap": false}},
    "color": {"field": "g", "type": "nominal", "scale": {"domain": ["High","Low"], "range": ["#F8766D","#00BFC4"]}, "legend": {"title": "Risk\u2800", "orient": "none", "legendX": 217.5, "legendY": 18.5, "direction": "vertical", "symbolType": "M-1,0H1M0,-0.5V0.5", "symbolSize": 1600, "symbolStrokeWidth": 4, "symbolOffset": 15, "labelExpr": "datum.label + '\u00a0\u2800'"}}}},
  {"transform": [{"filter": "datum.c == 1"}], "mark": {"type": "point", "shape": "M-1,0H1M0,-1V1", "size": 22, "strokeWidth": 1, "filled": false, "opacity": 1, "clip": true},
   "encoding": {"x": {"field": "t", "type": "quantitative"}, "y": {"field": "s", "type": "quantitative"},
    "color": {"field": "g", "type": "nominal", "scale": {"domain": ["High","Low"], "range": ["#F8766D","#00BFC4"]}, "legend": {"title": "Risk\u2800", "orient": "none", "legendX": 217.5, "legendY": 18.5, "direction": "vertical", "symbolType": "M-1,0H1M0,-0.5V0.5", "symbolSize": 1600, "symbolStrokeWidth": 4, "symbolOffset": 15, "labelExpr": "datum.label + '\u00a0\u2800'"}}}},
  {"data": {"name": "pv"}, "transform": [{"filter": "datum.panel == 'LUAD'"}], "mark": {"type": "text", "align": "left", "baseline": "middle", "fontSize": 10, "font": "Liberation Sans", "color": "black"},
   "encoding": {"x": {"field": "t", "type": "quantitative"}, "y": {"field": "s", "type": "quantitative"}, "text": {"field": "p"}}}
 ]}
], "spacing": 4},
{"vconcat": [
 {"width": 152, "height": 51, "view": {"stroke": "black", "strokeWidth": 3, "cornerRadius": 14, "fill": "white"}, "data": {"values": [{"name": "LIHC"}]}, "mark": {"type": "text", "font": "Roboto", "fontSize": 30, "fontWeight": 500, "color": "black"}, "encoding": {"text": {"field": "name"}}},
 {"width": 370, "height": 290, "data": {"name": "lihc"}, "layer": [
  {"mark": {"type": "line", "interpolate": "step-after", "strokeWidth": 1.2, "clip": true},
   "encoding": {"x": {"field": "t", "type": "quantitative", "scale": {"domain": [-14.58, 82.9], "nice": false, "zero": false}, "axis": {"values": [0,12,24,36,48,60,72], "tickCount": 60, "title": "Time (months)", "domainDash": [0, 40, 2000], "titleX": 206, "labelOverlap": false}},
    "y": {"field": "s", "type": "quantitative", "scale": {"domain": [-0.05, 1.05], "nice": false, "zero": false}, "axis": {"values": [0,0.25,0.5,0.75,1], "format": ".2f", "title": "Survival probability", "offset": -40, "labelOverlap": false}},
    "color": {"field": "g", "type": "nominal", "scale": {"domain": ["High","Low"], "range": ["#F8766D","#00BFC4"]}, "legend": {"title": "Risk\u2800", "orient": "none", "legendX": 217.5, "legendY": 18.5, "direction": "vertical", "symbolType": "M-1,0H1M0,-0.5V0.5", "symbolSize": 1600, "symbolStrokeWidth": 4, "symbolOffset": 15, "labelExpr": "datum.label + '\u00a0\u2800'"}}}},
  {"transform": [{"filter": "datum.c == 1"}], "mark": {"type": "point", "shape": "M-1,0H1M0,-1V1", "size": 22, "strokeWidth": 1, "filled": false, "opacity": 1, "clip": true},
   "encoding": {"x": {"field": "t", "type": "quantitative"}, "y": {"field": "s", "type": "quantitative"},
    "color": {"field": "g", "type": "nominal", "scale": {"domain": ["High","Low"], "range": ["#F8766D","#00BFC4"]}, "legend": {"title": "Risk\u2800", "orient": "none", "legendX": 217.5, "legendY": 18.5, "direction": "vertical", "symbolType": "M-1,0H1M0,-0.5V0.5", "symbolSize": 1600, "symbolStrokeWidth": 4, "symbolOffset": 15, "labelExpr": "datum.label + '\u00a0\u2800'"}}}},
  {"data": {"name": "pv"}, "transform": [{"filter": "datum.panel == 'LIHC'"}], "mark": {"type": "text", "align": "left", "baseline": "middle", "fontSize": 10, "font": "Liberation Sans", "color": "black"},
   "encoding": {"x": {"field": "t", "type": "quantitative"}, "y": {"field": "s", "type": "quantitative"}, "text": {"field": "p"}}}
 ]}
], "spacing": 4},
{"vconcat": [
 {"width": 152, "height": 51, "view": {"stroke": "black", "strokeWidth": 3, "cornerRadius": 14, "fill": "white"}, "data": {"values": [{"name": "PAAD"}]}, "mark": {"type": "text", "font": "Roboto", "fontSize": 30, "fontWeight": 500, "color": "black"}, "encoding": {"text": {"field": "name"}}},
 {"width": 373, "height": 290, "data": {"name": "paad"}, "layer": [
  {"mark": {"type": "line", "interpolate": "step-after", "strokeWidth": 1.2, "clip": true},
   "encoding": {"x": {"field": "t", "type": "quantitative", "scale": {"domain": [-7.5, 42.2], "nice": false, "zero": false}, "axis": {"values": [0,12,24,36], "tickCount": 60, "title": "Time (months)", "domainDash": [0, 41, 2000], "titleX": 207, "labelOverlap": false}},
    "y": {"field": "s", "type": "quantitative", "scale": {"domain": [-0.05, 1.05], "nice": false, "zero": false}, "axis": {"values": [0,0.25,0.5,0.75,1], "format": ".2f", "title": "Survival probability", "offset": -41, "labelOverlap": false}},
    "color": {"field": "g", "type": "nominal", "scale": {"domain": ["High","Low"], "range": ["#F8766D","#00BFC4"]}, "legend": {"title": "Risk\u2800", "orient": "none", "legendX": 217.5, "legendY": 18.5, "direction": "vertical", "symbolType": "M-1,0H1M0,-0.5V0.5", "symbolSize": 1600, "symbolStrokeWidth": 4, "symbolOffset": 15, "labelExpr": "datum.label + '\u00a0\u2800'"}}}},
  {"transform": [{"filter": "datum.c == 1"}], "mark": {"type": "point", "shape": "M-1,0H1M0,-1V1", "size": 22, "strokeWidth": 1, "filled": false, "opacity": 1, "clip": true},
   "encoding": {"x": {"field": "t", "type": "quantitative"}, "y": {"field": "s", "type": "quantitative"},
    "color": {"field": "g", "type": "nominal", "scale": {"domain": ["High","Low"], "range": ["#F8766D","#00BFC4"]}, "legend": {"title": "Risk\u2800", "orient": "none", "legendX": 217.5, "legendY": 18.5, "direction": "vertical", "symbolType": "M-1,0H1M0,-0.5V0.5", "symbolSize": 1600, "symbolStrokeWidth": 4, "symbolOffset": 15, "labelExpr": "datum.label + '\u00a0\u2800'"}}}},
  {"data": {"name": "pv"}, "transform": [{"filter": "datum.panel == 'PAAD'"}], "mark": {"type": "text", "align": "left", "baseline": "middle", "fontSize": 10, "font": "Liberation Sans", "color": "black"},
   "encoding": {"x": {"field": "t", "type": "quantitative"}, "y": {"field": "s", "type": "quantitative"}, "text": {"field": "p"}}}
 ]}
], "spacing": 4},
{"vconcat": [
 {"width": 152, "height": 51, "view": {"stroke": "black", "strokeWidth": 3, "cornerRadius": 14, "fill": "white"}, "data": {"values": [{"name": "SKCM"}]}, "mark": {"type": "text", "font": "Roboto", "fontSize": 30, "fontWeight": 500, "color": "black"}, "encoding": {"text": {"field": "name"}}},
 {"width": 370, "height": 290, "data": {"name": "skcm"}, "layer": [
  {"mark": {"type": "line", "interpolate": "step-after", "strokeWidth": 1.2, "clip": true},
   "encoding": {"x": {"field": "t", "type": "quantitative", "scale": {"domain": [-46.5, 255.5], "nice": false, "zero": false}, "axis": {"values": [0,12,24,36,48,60,72,84,96,108,120,132,144,156,168,180,192,204,216,228,240], "tickCount": 60, "title": "Time (months)", "domainDash": [0, 40, 2000], "titleX": 206, "labelOverlap": false}},
    "y": {"field": "s", "type": "quantitative", "scale": {"domain": [-0.05, 1.05], "nice": false, "zero": false}, "axis": {"values": [0,0.25,0.5,0.75,1], "format": ".2f", "title": "Survival probability", "offset": -40, "labelOverlap": false}},
    "color": {"field": "g", "type": "nominal", "scale": {"domain": ["High","Low"], "range": ["#F8766D","#00BFC4"]}, "legend": {"title": "Risk\u2800", "orient": "none", "legendX": 217.5, "legendY": 18.5, "direction": "vertical", "symbolType": "M-1,0H1M0,-0.5V0.5", "symbolSize": 1600, "symbolStrokeWidth": 4, "symbolOffset": 15, "labelExpr": "datum.label + '\u00a0\u2800'"}}}},
  {"transform": [{"filter": "datum.c == 1"}], "mark": {"type": "point", "shape": "M-1,0H1M0,-1V1", "size": 22, "strokeWidth": 1, "filled": false, "opacity": 1, "clip": true},
   "encoding": {"x": {"field": "t", "type": "quantitative"}, "y": {"field": "s", "type": "quantitative"},
    "color": {"field": "g", "type": "nominal", "scale": {"domain": ["High","Low"], "range": ["#F8766D","#00BFC4"]}, "legend": {"title": "Risk\u2800", "orient": "none", "legendX": 217.5, "legendY": 18.5, "direction": "vertical", "symbolType": "M-1,0H1M0,-0.5V0.5", "symbolSize": 1600, "symbolStrokeWidth": 4, "symbolOffset": 15, "labelExpr": "datum.label + '\u00a0\u2800'"}}}},
  {"data": {"name": "pv"}, "transform": [{"filter": "datum.panel == 'SKCM'"}], "mark": {"type": "text", "align": "left", "baseline": "middle", "fontSize": 10, "font": "Liberation Sans", "color": "black"},
   "encoding": {"x": {"field": "t", "type": "quantitative"}, "y": {"field": "s", "type": "quantitative"}, "text": {"field": "p"}}}
 ]}
], "spacing": 4}
],
"config": {
 "view": {"stroke": null},
 "font": "Liberation Sans",
 "axis": {"grid": false, "labelFont": "Liberation Sans", "labelFontSize": 7, "labelColor": "#4D4D4D", "tickColor": "#333333", "tickSize": 3, "domainColor": "#333333", "domainWidth": 1, "tickWidth": 0.8, "titleFont": "Liberation Sans", "titleFontWeight": "bold", "titleColor": "black", "labelFlush": false},
 "axisX": {"titleFontSize": 12, "titlePadding": 1, "labelPadding": 1},
 "axisY": {"titleFontSize": 10, "titlePadding": 2, "labelPadding": 2},
 "legend": {"strokeColor": "black", "strokeWidth": 3, "cornerRadius": 13, "fillColor": "white", "padding": 10, "titleFont": "Roboto", "titleFontSize": 26, "titleFontWeight": 500, "titleColor": "black", "titleAnchor": "middle", "titlePadding": 14, "labelFont": "Roboto", "labelFontSize": 22, "labelFontWeight": 500, "labelColor": "black", "labelOffset": 5, "rowPadding": 2}
}
}
